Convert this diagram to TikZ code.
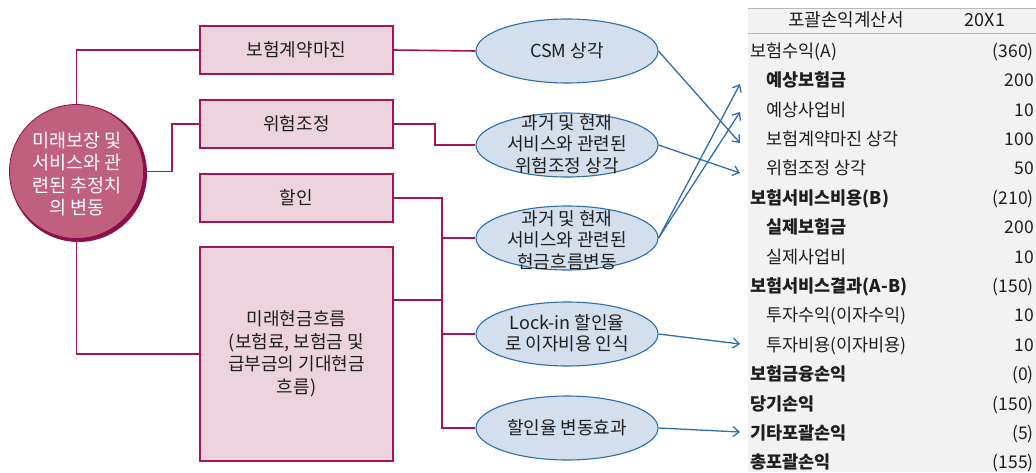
\documentclass[tikz,border=0pt]{standalone}
\usepackage{fontspec}
\setmainfont{Noto Sans CJK KR}
\usetikzlibrary{arrows.meta,shapes.geometric,calc}
\definecolor{crim}{HTML}{A3155A}
\definecolor{boxfill}{HTML}{EDD3DD}
\definecolor{circfill}{HTML}{C0607F}
\definecolor{circdark}{HTML}{8E0E48}
\definecolor{ellfill}{HTML}{D3DFEC}
\definecolor{ellline}{HTML}{2E6EAB}
\definecolor{tabbg}{HTML}{F2F2F2}
\definecolor{txt}{HTML}{1E1E1E}
\begin{document}
\begin{tikzpicture}[x=1pt,y=-1pt,
  pbox/.style={draw=crim, line width=1.3pt, fill=boxfill, minimum width=193pt,
    text=txt, font=\fontsize{18}{22.5}\selectfont, align=center, inner sep=0pt},
  ell/.style={ellipse, draw=ellline, line width=1.1pt, fill=ellfill,
    minimum width=182pt, minimum height=64pt, inner sep=0pt},
  etext/.style={text=txt, align=center, font=\fontsize{18}{21.5}\selectfont, inner sep=0pt},
  pline/.style={draw=crim, line width=1.6pt},
  barr/.style={draw=ellline, line width=1.3pt, -{Straight Barb[length=6pt,width=10pt]}},
  tabl/.style={anchor=base west, text=txt, font=\fontsize{17.5}{20}\selectfont, inner sep=0pt},
  tabb/.style={tabl, font=\fontsize{17.5}{20}\selectfont\bfseries},
  tabr/.style={anchor=base east, text=txt, font=\fontsize{17.5}{20}\selectfont, inner sep=0pt},
]
\useasboundingbox (0,0) rectangle (1036,472);

% table background
\fill[tabbg] (748,8) rectangle (1036,472);
\draw[gray!55, line width=0.8pt] (748,8) -- (1036,8);
\draw[gray!55, line width=0.8pt] (748,33) -- (1036,33);
\node[tabl, anchor=base, font=\fontsize{18}{20}\selectfont] (H1) at (846,26.5) {포괄손익계산서};
\node[tabl, anchor=base, font=\fontsize{18}{20}\selectfont] (H2) at (985,26.5) {20X1};
\foreach \y/\x/\s/\l/\v [count=\i] in {
  51/750/tabl/보험수익(A)/(360),
  80.4/766/tabb/예상보험금/200,
  109.8/766/tabl/예상사업비/10,
  139.2/766/tabl/보험계약마진 상각/100,
  168.6/766/tabl/위험조정 상각/50,
  198/750/tabb/보험서비스비용(B)/(210),
  227.4/766/tabb/실제보험금/200,
  256.8/766/tabl/실제사업비/10,
  286.2/750/tabb/보험서비스결과(A-B)/(150),
  315.6/766/tabl/투자수익(이자수익)/10,
  345/766/tabl/투자비용(이자비용)/10,
  374.4/750/tabb/보험금융손익/(0),
  403.8/750/tabb/당기손익/(150),
  433.2/750/tabb/기타포괄손익/(5),
  462.6/750/tabb/총포괄손익/(155)}
{
  \node[\s] (L\i) at (\x,\y+6.3) {\l};
  \node[tabr] (V\i) at (1034,\y+6.3) {\v};
}

% circle
\fill[circdark] (78.5,173.5) circle (68.5);
\node[circle, fill=circfill, draw=circdark, line width=0.8pt, minimum size=134pt, inner sep=0pt] (circ) at (76.5,171.5) {};
\node[etext, text=white, font=\fontsize{18.5}{22.5}\selectfont] (ctext) at (77,174) {미래보장 및\\서비스와 관\\련된 추정치\\의 변동};

% boxes
\node[pbox, minimum height=48pt] (b1) at (296.5,50) {보험계약마진};
\node[pbox, minimum height=48pt] (b2) at (296.5,124) {위험조정};
\node[pbox, minimum height=48pt] (b3) at (296.5,198) {할인};
\node[pbox, minimum height=214pt] (b4) at (296.5,354) {미래현금흐름\\(보험료, 보험금 및\\급부금의 기대현금\\흐름)};

% ellipses
\node[ell] (e1) at (567,51) {};
\node[ell] (e2) at (567,145) {};
\node[ell] (e3) at (567,238) {};
\node[ell] (e4) at (567,334) {};
\node[ell] (e5) at (567,428) {};
\node[etext] (t1) at (e1.center) {CSM 상각};
\node[etext] (t2) at (567,144) {과거 및 현재\\서비스와 관련된\\위험조정 상각};
\node[etext] (t3) at (567,240) {과거 및 현재\\서비스와 관련된\\현금흐름변동};
\node[etext] (t4) at (567,333) {Lock-in 할인율\\로 이자비용 인식};
\node[etext] (t5) at (e5.center) {할인율 변동효과};

% crimson connectors
\draw[pline] (circ.north) |- (b1.west);
\draw[pline] (circ.east) -- (172,171.5) |- (b2.west);
\draw[pline] (circ.south) |- (b4.west);
\draw[pline] (b1.east) -- (e1.west);
\draw[pline] (b2.east) -- (435,124) |- (e2.west);
\draw[pline] (b3.east) -- (442,198) |- (e5.west);
\draw[pline] (442,238) -- (e3.west);
\draw[pline] (442,334) -- (e4.west);
\draw[pline] (b4.east |- 0,300) -- (442,300);

% blue arrows
\coordinate (a1) at (740,143);
\coordinate (a2) at (740,173);
\coordinate (a3) at (740,84);
\coordinate (a4) at (740,112);
\coordinate (a5) at (740,344);
\coordinate (a6) at (740,432);
\draw[barr] (e1.east) -- (a1);
\draw[barr] (e2.east) -- (a2);
\draw[barr] (e3.east) -- (a3);
\draw[barr] (e3.east) -- (a4);
\draw[barr] (e4.east) -- (a5);
\draw[barr] (e5.east) -- (a6);
\end{tikzpicture}
\end{document}
